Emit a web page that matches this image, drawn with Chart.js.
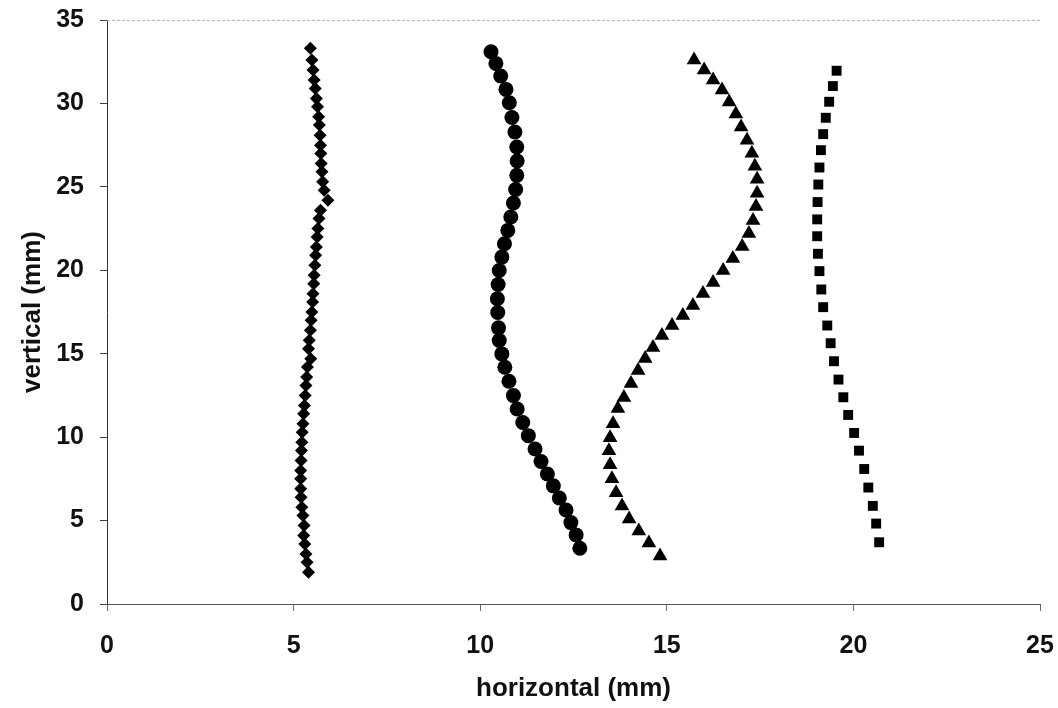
<!DOCTYPE html>
<html>
<head>
<meta charset="utf-8">
<script src="https://cdn.jsdelivr.net/npm/chart.js@4/dist/chart.umd.min.js"></script>
<style>
  html, body { margin: 0; padding: 0; background: #fff; }
  #wrap { width: 1058px; height: 708px; }
</style>
</head>
<body>
<div id="wrap"><canvas id="chart"></canvas></div>
<script>
// diamonds
const diamondX = [5.40, 5.36, 5.33, 5.30, 5.27, 5.28, 5.25, 5.22, 5.20, 5.19, 5.19, 5.19, 5.20, 5.21, 5.22,
  5.23, 5.25, 5.27, 5.29, 5.31, 5.33, 5.35, 5.37, 5.46, 5.40, 5.42, 5.45, 5.47, 5.49, 5.51, 5.52, 5.54, 5.55,
  5.57, 5.59, 5.61, 5.63, 5.65, 5.68, 5.72, 5.92, 5.82, 5.78, 5.76, 5.74, 5.73, 5.72, 5.71, 5.69, 5.67, 5.64,
  5.61, 5.58, 5.55, 5.52, 5.49, 5.45];
const diamondY = [1.9, 2.5, 3.0, 3.6, 4.1, 4.7, 5.3, 5.8, 6.4, 6.9, 7.5, 8.0, 8.6, 9.2, 9.7,
  10.3, 10.8, 11.4, 11.9, 12.5, 13.1, 13.6, 14.2, 14.7, 15.3, 15.8, 16.4, 17.0, 17.5, 18.1, 18.6, 19.2, 19.7,
  20.3, 20.9, 21.4, 22.0, 22.5, 23.1, 23.6, 24.2, 24.8, 25.3, 25.9, 26.4, 27.0, 27.5, 28.1, 28.7, 29.2, 29.8,
  30.3, 30.9, 31.4, 32.0, 32.6, 33.3];

// circles
const circleX = [10.29, 10.42, 10.55, 10.69, 10.78, 10.85, 10.93, 10.98, 10.99, 10.98, 10.95, 10.89, 10.82,
  10.74, 10.65, 10.58, 10.51, 10.48, 10.46, 10.47, 10.49, 10.51, 10.58, 10.66, 10.77, 10.89, 10.99, 11.14,
  11.29, 11.47, 11.63, 11.80, 11.96, 12.12, 12.30, 12.43, 12.57, 12.67];
const circleY = [33.10, 32.40, 31.64, 30.84, 30.04, 29.16, 28.29, 27.39, 26.55, 25.69, 24.84, 24.03, 23.19,
  22.39, 21.59, 20.79, 19.99, 19.15, 18.29, 17.47, 16.55, 15.79, 14.99, 14.19, 13.35, 12.49, 11.69, 10.88,
  10.09, 9.29, 8.54, 7.79, 7.08, 6.35, 5.63, 4.88, 4.14, 3.34];

// triangles
const triangleX = [15.73, 16.00, 16.24, 16.48, 16.67, 16.85, 16.99, 17.15, 17.28, 17.36, 17.42, 17.42, 17.39,
  17.31, 17.20, 17.02, 16.77, 16.51, 16.24, 15.97, 15.70, 15.43, 15.14, 14.87, 14.63, 14.42, 14.23, 14.04,
  13.85, 13.69, 13.56, 13.48, 13.45, 13.48, 13.53, 13.64, 13.80, 13.99, 14.25, 14.52, 14.82];
const triangleY = [32.60, 32.00, 31.40, 30.80, 30.08, 29.36, 28.58, 27.80, 27.02, 26.24, 25.46, 24.62, 23.83,
  22.99, 22.21, 21.43, 20.71, 19.99, 19.27, 18.61, 17.89, 17.29, 16.69, 16.09, 15.37, 14.71, 13.99, 13.21,
  12.37, 11.71, 10.81, 9.97, 9.19, 8.34, 7.50, 6.66, 5.88, 5.10, 4.38, 3.66, 2.88];

// squares
const squareX = [19.55, 19.45, 19.35, 19.26, 19.19, 19.13, 19.09, 19.06, 19.04, 19.03, 19.03, 19.05, 19.09,
  19.14, 19.19, 19.30, 19.39, 19.48, 19.60, 19.73, 19.86, 20.02, 20.15, 20.29, 20.40, 20.52, 20.61, 20.69];
const squareY = [31.96, 31.04, 30.10, 29.14, 28.16, 27.20, 26.16, 25.14, 24.09, 23.05, 22.04, 20.99, 19.95,
  18.85, 17.79, 16.69, 15.63, 14.55, 13.45, 12.39, 11.33, 10.25, 9.19, 8.09, 6.98, 5.88, 4.82, 3.70];

const xTicks = [0, 5, 10, 15, 20, 25];
const yTicks = [0, 5, 10, 15, 20, 25, 30, 35];

const toPoints = (xs, ys) => xs.map((x, i) => ({ x: x, y: ys[i] }));

const series = (pts, style, radius) => ({
    data: pts,
    pointStyle: style,
    pointRadius: radius,
    pointHoverRadius: radius,
    backgroundColor: '#000',
    borderColor: '#000',
    borderWidth: 0,
    showLine: false
});

// faint line along the top of the plot area
const topLine = {
    id: 'topLine',
    afterDraw(chart) {
        const { ctx, chartArea } = chart;
        ctx.save();
        ctx.strokeStyle = '#bbb';
        ctx.setLineDash([3, 2]);
        ctx.lineWidth = 1;
        ctx.beginPath();
        ctx.moveTo(chartArea.left, chartArea.top + 0.5);
        ctx.lineTo(chartArea.right, chartArea.top + 0.5);
        ctx.stroke();
        ctx.restore();
    }
};

const tickFont = { family: "'Liberation Sans', Arial, sans-serif", size: 25, weight: 'bold' };
const titleFont = { family: "'Liberation Sans', Arial, sans-serif", size: 26, weight: 'bold' };

new Chart(document.getElementById('chart'), {
    type: 'scatter',
    data: {
        datasets: [
            series(toPoints(diamondX, diamondY), 'rectRot', 6.5),
            series(toPoints(circleX, circleY), 'circle', 7.5),
            series(toPoints(triangleX, triangleY), 'triangle', 8.5),
            series(toPoints(squareX, squareY), 'rect', 7)
        ]
    },
    options: {
        responsive: true,
        maintainAspectRatio: false,
        animation: false,
        layout: { padding: { top: 20, right: 18, left: 0, bottom: 0 } },
        plugins: { legend: { display: false }, tooltip: { enabled: false } },
        scales: {
            x: {
                type: 'linear',
                min: 0,
                max: 25,
                afterBuildTicks: s => { s.ticks = xTicks.map(v => ({ value: v })); },
                afterFit: s => { s.height = 104; s.paddingLeft = 0; s.paddingRight = 0; },
                grid: { drawOnChartArea: false, drawTicks: true, tickLength: 7, color: '#666' },
                border: { color: '#555', width: 1 },
                ticks: { color: '#111', font: tickFont, padding: 20 },
                title: { display: true, text: 'horizontal (mm)', color: '#111', font: titleFont, padding: { top: 6 } }
            },
            y: {
                type: 'linear',
                min: 0,
                max: 35,
                afterBuildTicks: s => { s.ticks = yTicks.map(v => ({ value: v })); },
                afterFit: s => { s.width = 107; s.paddingTop = 0; s.paddingBottom = 0; },
                grid: { drawOnChartArea: false, drawTicks: true, tickLength: 7, color: '#444' },
                border: { color: '#333', width: 1 },
                ticks: { color: '#111', font: tickFont, padding: 16 },
                title: { display: true, text: 'vertical (mm)', color: '#111', font: titleFont, padding: { top: 17 } }
            }
        }
    },
    plugins: [topLine]
});
</script>
</body>
</html>
